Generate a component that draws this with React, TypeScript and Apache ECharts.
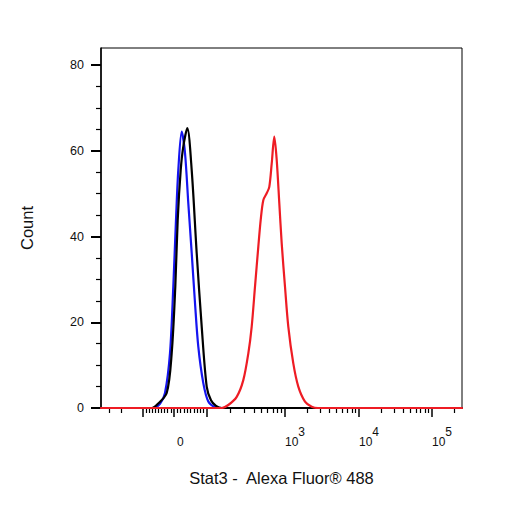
import React, { useEffect, useRef } from "react";
import * as echarts from "echarts";

// Histogram data: x = display channel (biexponential scale, 0 at fluorescence 0), y = count
const blueChannel = [-73, -21, -14, -9, -4, -0.7, 2, 4.3, 7.7, 11, 14.3, 17.7, 21, 24.3, 29.3, 34.3, 41, 48, 288];
const blueCount = [0, 0, 1.0, 3.5, 12.8, 28.3, 43.9, 55.5, 64.5, 59.5, 47.8, 36.2, 24.5, 14.3, 5.8, 1.5, 0.2, 0, 0];

const blackChannel = [-73, -22, -17.3, -7.3, -2.3, 1.3, 3.7, 6.7, 9.3, 13.3, 17.7, 22.7, 27.7, 32.7, 37, 42, 48, 288];
const blackCount = [0, 0, 0.7, 3.5, 12.8, 28.3, 43.9, 55.5, 61, 65.3, 55.5, 36.1, 19, 5.0, 1.8, 0.5, 0, 0];

const redChannel = [-73, 47.7, 54.3, 62.7, 69.3, 74.3, 77.7, 81, 84.3, 86.7, 89.3, 92.7, 95.3, 97.7, 100.3, 102.7, 105.3, 107.7, 111, 114.3, 119.3, 124.3, 131, 137.7, 144, 288];
const redCount = [0, 0, 0.7, 2.6, 6.5, 12.7, 19, 28.3, 37.6, 43.9, 48.5, 50.1, 51.6, 57, 63.3, 57.9, 47.8, 38.4, 28.3, 19, 10.4, 5, 1.5, 0.3, 0, 0];

// Axis tick values (fluorescence units)
const xMajorValues = [-100, 0, 100, 1000, 10000, 100000];
const xMinorValues = [
  -300, -200, -90, -80, -70, -60, -50, -40, -30, -20, -10,
  10, 20, 30, 40, 50, 60, 70, 80, 90,
  200, 300, 400, 500, 600, 700, 800, 900,
  2000, 3000, 4000, 5000, 6000, 7000, 8000, 9000,
  20000, 30000, 40000, 50000, 60000, 70000, 80000, 90000,
  200000,
];
const xLabelValues = [0, 1000, 10000, 100000];
const xLabelBase = ["0", "10", "10", "10"];
const xLabelExp = ["", "3", "4", "5"];

const yMajorValues = [0, 20, 40, 60, 80];
const yMinorValues = [5, 10, 15, 25, 30, 35, 45, 50, 55, 65, 70, 75];

const X_MIN = -73;
const X_MAX = 288;
const Y_MAX = 84;

// biexponential display transform (fluorescence -> display channel)
function toDisplay(v: number): number {
  const a = Math.abs(v);
  if (v >= 0) {
    if (a <= 100) return 0.33 * a;
    if (a <= 1000) return 33 + 78 * Math.log10(a / 100);
    if (a <= 10000) return 111 + 74 * Math.log10(a / 1000);
    return 185 + 73 * Math.log10(a / 10000);
  }
  if (a <= 100) return -0.313 * a;
  return -(31.3 + 70 * Math.log10(a / 100));
}

const zip = (xs: number[], ys: number[]) => xs.map((x, i) => [x, ys[i]]);

export default function App() {
  const ref = useRef<HTMLDivElement>(null);

  useEffect(() => {
    if (!ref.current) return;
    const chart = echarts.init(ref.current, null, { renderer: "svg" });
    const labelPos = xLabelValues.map(toDisplay);
    const font = "'Liberation Sans', Arial, sans-serif";

    const lineSeries = (name: string, xs: number[], ys: number[], color: string, z: number) => ({
      name,
      type: "line",
      xAxisIndex: 0,
      yAxisIndex: 0,
      data: zip(xs, ys),
      showSymbol: false,
      smooth: 0.3,
      lineStyle: { color, width: 2.2, join: "round", cap: "round" },
      itemStyle: { color },
      clip: true,
      z,
    });

    const option: any = {
      animation: false,
      grid: {
        left: 101,
        right: 44,
        top: 48,
        bottom: 98,
        show: true,
        borderColor: "#000",
        borderWidth: 1,
        backgroundColor: "transparent",
      },
      xAxis: [
        {
          type: "value",
          min: X_MIN,
          max: X_MAX,
          position: "bottom",
          name: "Stat3 -  Alexa Fluor® 488",
          nameLocation: "middle",
          nameGap: 61,
          nameTextStyle: { fontSize: 16.5, color: "#111", fontFamily: font },
          axisLine: { show: true, onZero: false, lineStyle: { color: "#000", width: 1.5 } },
          axisTick: {
            show: true,
            inside: false,
            length: 9,
            customValues: xMajorValues.map(toDisplay),
            lineStyle: { color: "#000", width: 1.5 },
          },
          axisLabel: {
            show: true,
            customValues: labelPos,
            margin: 18,
            align: "left",
            formatter: (val: number) => {
              const i = labelPos.findIndex((p) => Math.abs(p - val) < 1e-6);
              if (i < 0) return "";
              if (!xLabelExp[i]) return "{z|" + xLabelBase[i] + "}";
              return "{b|" + xLabelBase[i] + "}{s|" + xLabelExp[i] + "}";
            },
            rich: {
              b: { fontSize: 12, lineHeight: 22, verticalAlign: "bottom", color: "#111", fontFamily: font },
              z: { fontSize: 12, lineHeight: 22, verticalAlign: "bottom", color: "#111", fontFamily: font, padding: [0, 0, 0, 3] },
              s: { fontSize: 12, lineHeight: 22, verticalAlign: "top", color: "#111", fontFamily: font },
            },
          },
          splitLine: { show: false },
        },
        {
          type: "value",
          min: X_MIN,
          max: X_MAX,
          position: "bottom",
          offset: 0,
          axisLine: { show: false, onZero: false },
          axisTick: {
            show: true,
            inside: false,
            length: 5,
            customValues: xMinorValues.map(toDisplay),
            lineStyle: { color: "#000", width: 1.2 },
          },
          axisLabel: { show: false },
          splitLine: { show: false },
        },
      ],
      yAxis: [
        {
          type: "value",
          min: 0,
          max: Y_MAX,
          position: "left",
          offset: 0,
          name: "Count",
          nameLocation: "middle",
          nameGap: 66,
          nameTextStyle: { fontSize: 16.5, color: "#111", fontFamily: font },
          axisLine: { show: true, onZero: false, lineStyle: { color: "#000", width: 1.5 } },
          axisTick: {
            show: true,
            inside: false,
            length: 10,
            customValues: yMajorValues,
            lineStyle: { color: "#000", width: 2 },
          },
          axisLabel: {
            show: true,
            customValues: yMajorValues,
            margin: 17,
            fontSize: 12.5,
            color: "#111",
            fontFamily: font,
          },
          splitLine: { show: false },
        },
        {
          type: "value",
          min: 0,
          max: Y_MAX,
          position: "left",
          offset: 0,
          axisLine: { show: false, onZero: false },
          axisTick: {
            show: true,
            inside: false,
            length: 5,
            customValues: yMinorValues,
            lineStyle: { color: "#000", width: 1.2 },
          },
          axisLabel: { show: false },
          splitLine: { show: false },
        },
      ],
      series: [
        lineSeries("blue", blueChannel, blueCount, "#1515f0", 3),
        lineSeries("black", blackChannel, blackCount, "#000000", 4),
        lineSeries("red", redChannel, redCount, "#ee1c24", 5),
      ],
    };
    chart.setOption(option);
    return () => chart.dispose();
  }, []);

  return (
    <div
      ref={ref}
      style={{ position: "absolute", left: 0, top: 0, width: 506, height: 506, background: "#fff" }}
    />
  );
}
